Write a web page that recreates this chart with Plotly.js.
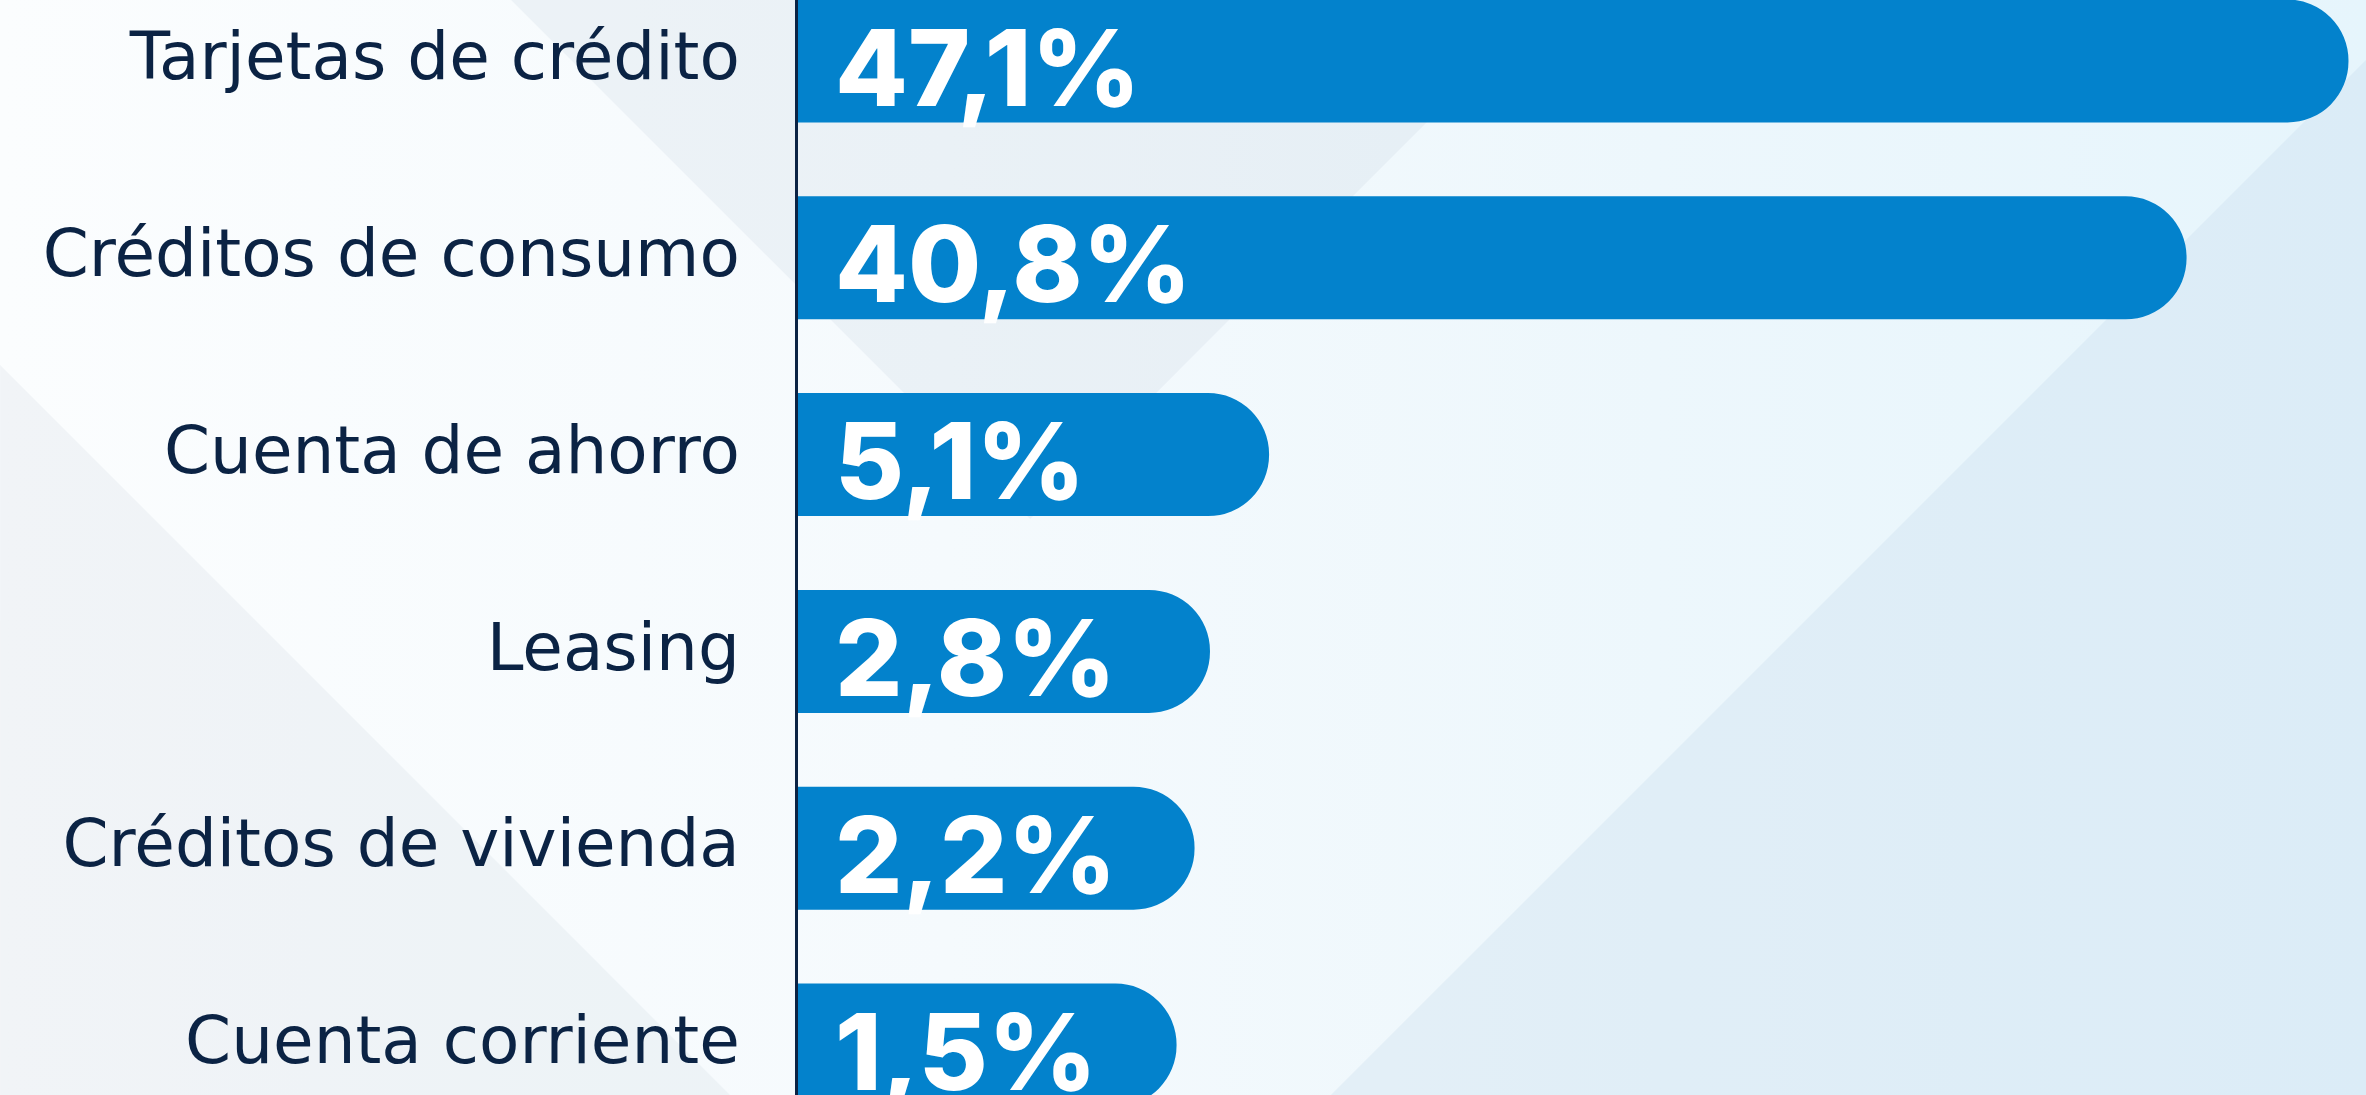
<!DOCTYPE html>
<html>
<head>
<meta charset="utf-8">
<script src="https://cdn.plot.ly/plotly-3.0.1.min.js"></script>
<style>
  html, body { margin: 0; padding: 0; width: 2366px; height: 1095px; overflow: hidden;
    background: linear-gradient(90deg, #fbfdfe 0%, #f5fafd 40%, #edf7fc 70%, #e6f5fc 100%); }
  #chart { width: 2366px; height: 1095px; }
</style>
</head>
<body>
<div id="chart"></div>
<script>
// ---- data ----
const categories = [
  'Tarjetas de crédito',
  'Créditos de consumo',
  'Cuenta de ahorro',
  'Leasing',
  'Créditos de vivienda',
  'Cuenta corriente'
];
const values = [47.1, 40.8, 5.1, 2.8, 2.2, 1.5];
const valueLabels = values.map(v => v.toFixed(1).replace('.', ',') + '%');

// ---- layout geometry ----
const W = 2366, H = 1095, L = 798;
const OFFSET = 13.23;          // bars in the original start with a fixed lead-in before the value scale
const XMAX = (W - L) / 25.7;   // axis span in value units
const px = x => (x - L) / (W - L);
const py = y => 1 - y / H;
function poly(pts) {
  return pts.map((p, i) => (i ? 'L ' : 'M ') + px(p[0]).toFixed(4) + ' ' + py(p[1]).toFixed(4)).join(' ') + ' Z';
}

const bars = {
  type: 'bar',
  orientation: 'h',
  y: categories,
  x: values.map(v => v + OFFSET),
  customdata: values,
  width: 0.625,
  marker: { color: '#0382cc', cornerradius: '50%', line: { width: 0 } },
  hoverinfo: 'none'
};

const annotations = categories.map((c, i) => ({
  xref: 'x', yref: 'y',
  x: 1.36, y: c,
  text: valueLabels[i],
  showarrow: false,
  xanchor: 'left', yanchor: 'middle',
  yshift: -6,
  font: { family: 'Inter, Roboto, sans-serif', size: 106, color: '#ffffff', weight: 800 }
}));

const layout = {
  width: W, height: H,
  margin: { l: L, r: 0, t: 0, b: 0, pad: 0 },
  paper_bgcolor: 'rgba(0,0,0,0)',
  plot_bgcolor: 'rgba(0,0,0,0)',
  showlegend: false,
  hovermode: false,
  xaxis: { range: [0, XMAX], visible: false, fixedrange: true },
  yaxis: {
    type: 'category',
    categoryorder: 'array',
    categoryarray: categories,
    range: [5.254, -0.31],
    showline: true, linecolor: '#0b2344', linewidth: 3,
    showgrid: false, zeroline: false, ticks: '',
    ticklabelstandoff: 42,
    ticklabelshift: 5,
    tickfont: { family: '"DejaVu Sans", sans-serif', size: 66, color: '#0b2344' },
    fixedrange: true
  },
  annotations: annotations,
  shapes: [
    { type: 'path', xref: 'paper', yref: 'paper', layer: 'below', line: { width: 0 },
      fillcolor: 'rgba(200,212,225,0.24)', path: poly([[511, 0], [1549, 0], [1030, 519]]) },
    { type: 'path', xref: 'paper', yref: 'paper', layer: 'below', line: { width: 0 },
      fillcolor: 'rgba(205,214,224,0.22)', path: poly([[0, 365], [730, 1095], [0, 1095]]) },
    { type: 'path', xref: 'paper', yref: 'paper', layer: 'below', line: { width: 0 },
      fillcolor: 'rgba(190,212,230,0.26)', path: poly([[2366, 60], [2366, 1095], [1331, 1095]]) }
  ]
};

Plotly.newPlot('chart', [bars], layout, { displayModeBar: false, staticPlot: true });
</script>
</body>
</html>
